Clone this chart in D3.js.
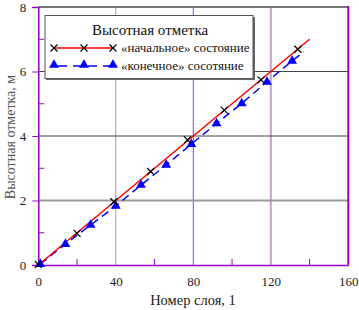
<!DOCTYPE html>
<html><head><meta charset="utf-8">
<script src="https://cdn.jsdelivr.net/npm/d3@7"></script>
<style>body{margin:0;background:#fff}</style>
</head><body><svg id="c" width="359" height="310"></svg>
<script>
const xTicks = [0, 40, 80, 120, 160];
const yTicks = [0, 2, 4, 6, 8];
const initLineX = [0, 140];
const initLineY = [0, 7];
const initX = [0, 20, 39, 58, 77, 96, 115, 134];
const initY = [0.02, 0.98, 1.96, 2.9, 3.88, 4.8, 5.74, 6.69];
const finalX = [1, 14, 27, 40, 53, 66, 79, 92, 105, 118, 131, 137];
const finalY = [0.03, 0.65, 1.24, 1.83, 2.48, 3.1, 3.75, 4.39, 5.01, 5.68, 6.33, 6.61];
const finalMarkN = 11;
const legendTitle = "Высотная отметка";
const seriesNames = ["«начальное» состояние", "«конечное» сосотяние"];
const xTitle = "Номер слоя, 1";
const yTitle = "Высотная отметка, м";
const FONT = "'Liberation Serif', 'Times New Roman', serif";

const svg = d3.select("#c");
const x = d3.scaleLinear().domain([0,160]).range([38.3,348.3]);
const y = d3.scaleLinear().domain([0,8]).range([265,7]);

const vStyle = {40:["#b48ad6",1], 80:["#9a3ccf",1], 120:["#c4a0d4",2]};
[40,80,120].forEach(v=>{
  svg.append("line").attr("x1",x(v)).attr("x2",x(v)).attr("y1",y(0)).attr("y2",y(8))
    .attr("stroke",vStyle[v][0]).attr("stroke-width",vStyle[v][1]);
});
const hStyle = {2:["#999",2], 4:["#444",1], 6:["#444",1], 8:["#777",2]};
[2,4,6,8].forEach(v=>{
  svg.append("line").attr("x1",x(0)).attr("x2",x(160)).attr("y1",y(v)).attr("y2",y(v))
    .attr("stroke",hStyle[v][0]).attr("stroke-width",hStyle[v][1]);
});
svg.append("line").attr("x1",x(160)).attr("x2",x(160)).attr("y1",y(8)-1).attr("y2",y(0))
  .attr("stroke","#9900cc").attr("stroke-width",2);

const xAxis = d3.axisBottom(x).tickValues(xTicks).tickSize(0).tickPadding(12);
const gx = svg.append("g").attr("transform",`translate(0,${y(0)})`).call(xAxis);
gx.attr("font-family",null);
gx.select(".domain").attr("stroke","#9900cc").attr("stroke-width",1.5);
gx.selectAll("text").attr("font-size",13).attr("fill","#222");
[20,60,100,140].forEach(v=>{
  svg.append("line").attr("x1",x(v)).attr("x2",x(v)).attr("y1",y(0)).attr("y2",y(0)-6)
    .attr("stroke","#9900cc").attr("stroke-width",1);
});
const yAxis = d3.axisLeft(y).tickValues(yTicks).tickSize(6).tickPadding(6);
const gy = svg.append("g").attr("transform",`translate(${x(0)},0)`).call(yAxis);
gy.attr("font-family",null);
gy.select(".domain").attr("stroke","#9900cc").attr("stroke-width",1.5);
gy.selectAll(".tick line").attr("stroke","#9900cc");
gy.selectAll("text").attr("font-size",13).attr("fill","#222");
[1,3,5,7].forEach(v=>{
  svg.append("line").attr("x1",x(0)).attr("x2",x(0)+6).attr("y1",y(v)).attr("y2",y(v))
    .attr("stroke","#9900cc").attr("stroke-width",1);
});

svg.append("text").attr("x",193).attr("y",305).attr("text-anchor","middle")
  .attr("font-size",14.5).attr("fill","#222").text(xTitle);
svg.append("text").attr("transform","translate(15,137) rotate(-90)").attr("text-anchor","middle")
  .attr("font-size",14).attr("fill","#555").text(yTitle);

const line = d3.line().x(d=>x(d[0])).y(d=>y(d[1]));
const finalPts = finalX.map((v,i)=>[v,finalY[i]]);
svg.append("path").datum(finalPts).attr("d",line).attr("fill","none")
  .attr("stroke","#0000ff").attr("stroke-width",1.5).attr("stroke-dasharray","8,5");
const initPts = initLineX.map((v,i)=>[v,initLineY[i]]);
svg.append("path").datum(initPts).attr("d",line).attr("fill","none")
  .attr("stroke","#ff0000").attr("stroke-width",1.5);

const tri = d3.symbol().type(d3.symbolTriangle).size(42);
function cross(g,cx,cy){
  const s=3.5;
  g.append("path").attr("d",`M${cx-s},${cy-s}L${cx+s},${cy+s}M${cx-s},${cy+s}L${cx+s},${cy-s}`)
    .attr("stroke","#000").attr("stroke-width",1.2).attr("fill","none");
}
finalPts.slice(0,finalMarkN).forEach(p=>{
  svg.append("path").attr("d",tri).attr("transform",`translate(${x(p[0])},${y(p[1])})`).attr("fill","#0000ff");
});
initX.forEach((v,i)=>cross(svg,x(v),y(initY[i])));

const lg = svg.append("g");
lg.append("rect").attr("x",46).attr("y",17).attr("width",209).attr("height",63).attr("fill","#666");
lg.append("rect").attr("x",45).attr("y",15.5).attr("width",208).attr("height",63).attr("fill","#fff")
  .attr("stroke","#555").attr("stroke-width",1);
lg.append("text").attr("x",150).attr("y",35).attr("text-anchor","middle").attr("font-size",15).attr("fill","#111").text(legendTitle);
lg.append("line").attr("x1",54).attr("x2",113).attr("y1",48).attr("y2",48).attr("stroke","#ff0000").attr("stroke-width",1.5);
[54,84,113].forEach(cx=>cross(lg,cx,48));
lg.append("line").attr("x1",54).attr("x2",113).attr("y1",66).attr("y2",66).attr("stroke","#0000ff").attr("stroke-width",1.5).attr("stroke-dasharray","9,6").attr("stroke-dashoffset",-4);
[54,84,113].forEach(cx=>lg.append("path").attr("d",tri).attr("transform",`translate(${cx},${65})`).attr("fill","#0000ff"));
lg.append("text").attr("x",121).attr("y",52).attr("font-size",13).attr("fill","#111").text(seriesNames[0]);
lg.append("text").attr("x",121).attr("y",70).attr("font-size",13).attr("fill","#111").text(seriesNames[1]);

svg.selectAll("text").style("font-family", FONT);
</script></body></html>
